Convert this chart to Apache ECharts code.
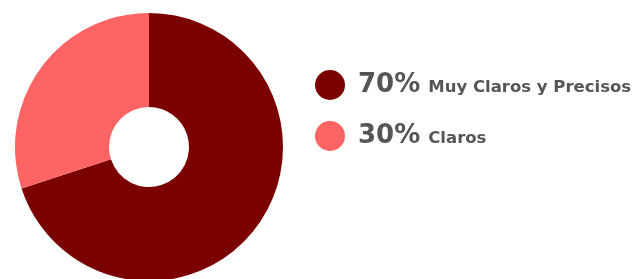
<!DOCTYPE html>
<html>
<head>
<meta charset="utf-8">
<script src="https://cdn.jsdelivr.net/npm/echarts@6/dist/echarts.min.js"></script>
<style>html,body{margin:0;padding:0;background:#fff;}</style>
</head>
<body>
<div id="main" style="width:641px;height:279px;"></div>
<script>
var names = ['Muy Claros y Precisos', 'Claros'];
var values = [70, 30];
var colors = ['#7b0000', '#ff6464'];

var chart = echarts.init(document.getElementById('main'));
var option = {
    animation: false,
    color: colors,
    legend: {
        orient: 'vertical',
        left: 310,
        top: 65,
        itemWidth: 30,
        itemHeight: 30,
        itemGap: 21,
        icon: 'circle',
        data: names,
        formatter: function (name) {
            var i = names.indexOf(name);
            return '{pct|' + values[i] + '%}{nm|' + name + '}';
        },
        textStyle: {
            color: '#555',
            rich: {
                pct: { fontSize: 26, fontWeight: 'bold', color: '#555', fontFamily: 'DejaVu Sans', padding: [0, 0, 0, 8] },
                nm: { fontSize: 16.5, fontWeight: 'bold', color: '#555', fontFamily: 'DejaVu Sans', padding: [5, 0, 0, 8] }
            }
        }
    },
    series: [{
        type: 'pie',
        center: [149, 147],
        radius: [40, 134],
        startAngle: 90,
        clockwise: true,
        label: { show: false },
        labelLine: { show: false },
        data: names.map(function (n, i) { return { name: n, value: values[i] }; })
    }]
};
chart.setOption(option);
</script>
</body>
</html>
